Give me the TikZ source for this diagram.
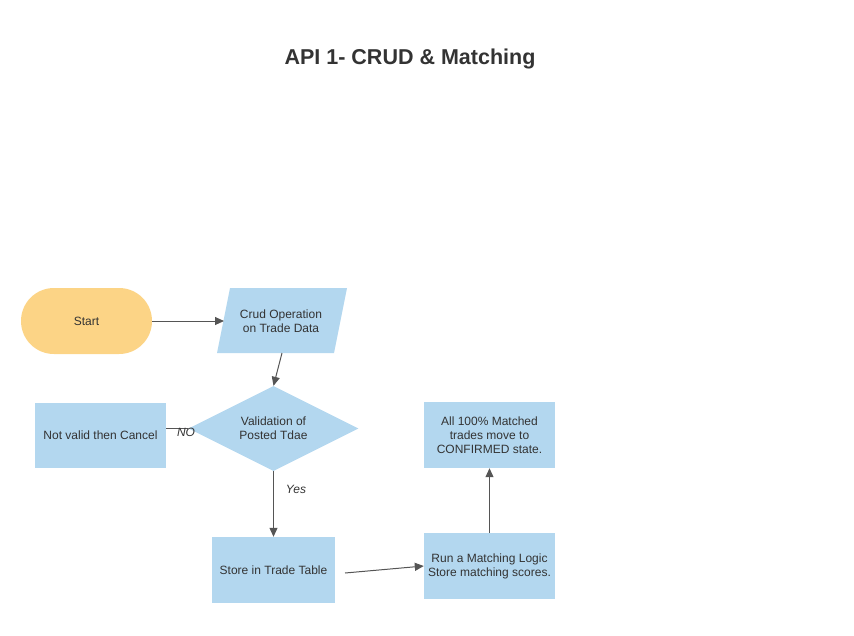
\documentclass[tikz,border=0pt]{standalone}
\usepackage{fontspec}
\setmainfont{Liberation Sans}
\usetikzlibrary{shapes.geometric,arrows.meta}
\definecolor{boxblue}{HTML}{B3D7EF}
\definecolor{startyel}{HTML}{FCD486}
\definecolor{txt}{HTML}{333333}
\definecolor{lin}{HTML}{555555}
\begin{document}
\begin{tikzpicture}[x=1pt,y=-1pt,
  every node/.style={text=txt,font=\fontsize{12}{14}\selectfont,align=center},
  procbox/.style={rectangle,fill=boxblue,minimum width=131pt,minimum height=66pt,inner sep=0pt},
  termbox/.style={rectangle,fill=startyel,rounded corners=32.9pt,minimum width=131pt,minimum height=66pt,inner sep=0pt},
  decbox/.style={diamond,fill=boxblue,minimum width=170pt,minimum height=85pt,inner sep=0pt,aspect=2},
  conn/.style={draw=lin,line width=1pt,-{Triangle[length=9pt,width=8pt]}},
  plainconn/.style={draw=lin,line width=1pt},
  lbl/.style={font=\itshape\fontsize{12}{14}\selectfont}]
\useasboundingbox (0,0) rectangle (854,635);
\node[font=\bfseries\fontsize{21.5}{25}\selectfont] (title) at (410,59) {API 1- CRUD \& Matching};
\node[termbox] (start) at (86.5,321) {Start};
% parallelogram
\coordinate (pbl) at (217,353);
\coordinate (pbr) at (334,353);
\coordinate (ptr) at (347,288);
\coordinate (ptl) at (230,288);
\fill[boxblue] (pbl) -- (pbr) -- (ptr) -- (ptl) -- cycle;
\node (para) at (281,321) {Crud Operation\\on Trade Data};
\coordinate (paraW) at (224,321);
\coordinate (paraS) at (282,353);
\node[decbox] (val) at (273.5,428.5) {Validation of\\Posted Tdae};
\node[procbox,minimum height=65pt] (cancel) at (100.5,435.5) {Not valid then Cancel};
\node[procbox,minimum width=123pt] (store) at (273.5,570) {Store in Trade Table};
\node[procbox] (run) at (489.5,566) {Run a Matching Logic\\Store matching scores.};
\node[procbox] (all) at (489.5,435) {All 100\% Matched\\trades move to\\CONFIRMED state.};
\coordinate (storeOut) at (345,573);
\coordinate (cancelE) at (166,428.5);
\draw[conn] (start.east) -- (paraW);
\draw[conn] (paraS) -- (val.north);
\draw[plainconn] (val.west) -- (cancelE);
\node[lbl] (no) at (186,432) {NO};
\draw[conn] (val.south) -- (store.north);
\node[lbl] (yes) at (296,489) {Yes};
\draw[conn] (storeOut) -- (run.west);
\draw[conn] (run.north) -- (all.south);
\end{tikzpicture}
\end{document}
